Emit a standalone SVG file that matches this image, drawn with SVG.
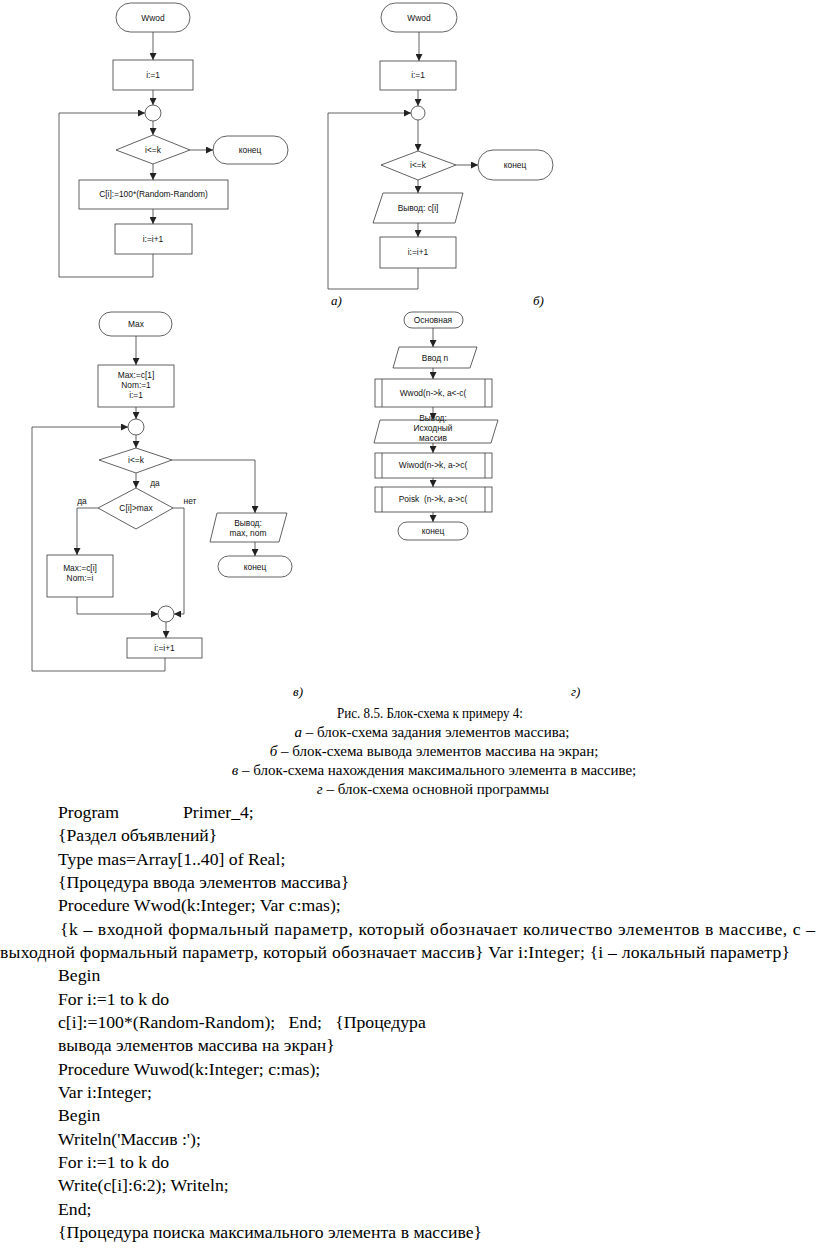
<svg xmlns="http://www.w3.org/2000/svg" width="816" height="1249" viewBox="0 0 816 1249">
<style>
.s{fill:#fff;stroke:#3a3a3a;stroke-width:0.8}
.c{fill:none;stroke:#3a3a3a;stroke-width:0.8}
.t{font-family:"Liberation Sans",Arial,sans-serif;font-size:8.4px;fill:#111;text-anchor:middle}
.lab{font-family:"Liberation Serif","Times New Roman",serif;font-size:13px;font-style:italic;fill:#000}
.cap{font-family:"Liberation Serif","Times New Roman",serif;font-size:15px;fill:#000;text-anchor:middle}
.code{font-family:"Liberation Serif","Times New Roman",serif;font-size:17.7px;fill:#000}
</style>
<defs>
<marker id="ar" markerUnits="userSpaceOnUse" markerWidth="7" markerHeight="7" refX="7" refY="3.5" orient="auto">
<path d="M0,0 L7,3.5 L0,7 z" fill="#222"/>
</marker>
</defs>
<rect width="816" height="1249" fill="#fff"/>

<!-- Diagram a -->
<g id="a_start"><rect class="s" x="116" y="3" width="74" height="29" rx="14.5"/><text class="t" x="153" y="21">Wwod</text></g>
<g id="a_init"><rect class="s" x="113" y="60" width="80" height="30"/><text class="t" x="153" y="78">i:=1</text></g>
<g id="a_join"><circle class="s" cx="153" cy="113" r="8"/></g>
<g id="a_cond"><polygon class="s" points="116,150 153,135 190,150 153,164"/><text class="t" x="153" y="153">i&lt;=k</text></g>
<g id="a_end"><rect class="s" x="213" y="136" width="75" height="28" rx="14"/><text class="t" x="250" y="153">конец</text></g>
<g id="a_assign"><rect class="s" x="79" y="180" width="149" height="29"/><text class="t" x="153.5" y="197">C[i]:=100*(Random-Random)</text></g>
<g id="a_inc"><rect class="s" x="115" y="224" width="77" height="30"/><text class="t" x="153" y="242">i:=i+1</text></g>

<!-- Diagram b -->
<g id="b_start"><rect class="s" x="381" y="3" width="76" height="29" rx="14.5"/><text class="t" x="419" y="21">Wwod</text></g>
<g id="b_init"><rect class="s" x="380" y="61" width="76" height="29"/><text class="t" x="418" y="78">i:=1</text></g>
<g id="b_join"><circle class="s" cx="418" cy="113" r="7"/></g>
<g id="b_cond"><polygon class="s" points="381,165 418,151 456,165 418,180"/><text class="t" x="418" y="168">i&lt;=k</text></g>
<g id="b_end"><rect class="s" x="478" y="150" width="75" height="30" rx="15"/><text class="t" x="515" y="168">конец</text></g>
<g id="b_out"><polygon class="s" points="383,193 463,193 455,223 373,223"/><text class="t" x="418" y="211">Вывод: c[i]</text></g>
<g id="b_inc"><rect class="s" x="380" y="237" width="76" height="31"/><text class="t" x="418" y="255">i:=i+1</text></g>

<!-- Diagram c -->
<g id="c_start"><rect class="s" x="99" y="312" width="73" height="24" rx="12"/><text class="t" x="136" y="327">Max</text></g>
<g id="c_init"><rect class="s" x="98" y="365" width="76" height="42"/><text class="t" x="136" y="378">Max:=c[1]</text><text class="t" x="136" y="388">Nom:=1</text><text class="t" x="136" y="398">i:=1</text></g>
<g id="c_join1"><circle class="s" cx="136" cy="427" r="8"/></g>
<g id="c_cond1"><polygon class="s" points="99,460 136,448 172,460 136,473"/><text class="t" x="136" y="463">i&lt;=k</text></g>
<g id="c_cond2"><polygon class="s" points="98,508 136,488 173,508 136,529"/><text class="t" x="136" y="511">C[i]&gt;max</text></g>
<g id="c_set"><rect class="s" x="47" y="555" width="66" height="42"/><text class="t" x="80" y="571">Max:=c[i]</text><text class="t" x="80" y="581">Nom:=i</text></g>
<g id="c_join2"><circle class="s" cx="166" cy="614" r="8"/></g>
<g id="c_inc"><rect class="s" x="127" y="638" width="75" height="20"/><text class="t" x="164.5" y="651">i:=i+1</text></g>
<g id="c_out"><polygon class="s" points="217,513 287,513 279,542 210,542"/><text class="t" x="248" y="526">Вывод:</text><text class="t" x="248" y="536">max, nom</text></g>
<g id="c_end"><rect class="s" x="218" y="556" width="74" height="21" rx="10.5"/><text class="t" x="255" y="570">конец</text></g>
<g id="c_labels" class="t"><text x="155" y="486">да</text><text x="82" y="504">да</text><text x="190" y="504">нет</text></g>

<!-- Diagram d -->
<g id="d_start"><rect class="s" x="404" y="312" width="59" height="16" rx="8"/><text class="t" x="433" y="323">Основная</text></g>
<g id="d_in"><polygon class="s" points="399,347 477,347 470,368 393,368"/><text class="t" x="435" y="361">Ввод n</text></g>
<g id="d_wwod"><rect class="s" x="375" y="379" width="117" height="28"/><line class="c" x1="382" y1="379" x2="382" y2="407"/><line class="c" x1="485" y1="379" x2="485" y2="407"/><text class="t" x="433" y="396">Wwod(n-&gt;k, a&lt;-c(</text></g>
<g id="d_out"><polygon class="s" points="380,420 498,420 491,443 374,443"/><text class="t" x="433" y="421">Вывод:</text><text class="t" x="433" y="431">Исходный</text><text class="t" x="433" y="441">массив</text></g>
<g id="d_wiwod"><rect class="s" x="375" y="453" width="117" height="25"/><line class="c" x1="382" y1="453" x2="382" y2="478"/><line class="c" x1="485" y1="453" x2="485" y2="478"/><text class="t" x="433" y="468">Wiwod(n-&gt;k, a-&gt;c(</text></g>
<g id="d_poisk"><rect class="s" x="375" y="487" width="117" height="25"/><line class="c" x1="382" y1="487" x2="382" y2="512"/><line class="c" x1="485" y1="487" x2="485" y2="512"/><text class="t" x="433" y="502" xml:space="preserve">Poisk  (n-&gt;k, a-&gt;c(</text></g>
<g id="d_end"><rect class="s" x="398" y="522" width="70" height="18" rx="9"/><text class="t" x="433" y="534">конец</text></g>

<!-- Connectors -->
<g id="connectors" class="c">
<line x1="153" y1="32" x2="153" y2="60" marker-end="url(#ar)"/>
<line x1="153" y1="90" x2="153" y2="105" marker-end="url(#ar)"/>
<line x1="153" y1="121" x2="153" y2="135" marker-end="url(#ar)"/>
<line x1="190" y1="150" x2="213" y2="150" marker-end="url(#ar)"/>
<line x1="153" y1="164" x2="153" y2="180" marker-end="url(#ar)"/>
<line x1="153" y1="209" x2="153" y2="224" marker-end="url(#ar)"/>
<polyline points="153,254 153,277 59,277 59,113 145,113" marker-end="url(#ar)"/>

<line x1="419" y1="32" x2="419" y2="61" marker-end="url(#ar)"/>
<line x1="418" y1="90" x2="418" y2="106" marker-end="url(#ar)"/>
<line x1="418" y1="120" x2="418" y2="151" marker-end="url(#ar)"/>
<line x1="456" y1="165" x2="478" y2="165" marker-end="url(#ar)"/>
<line x1="418" y1="180" x2="418" y2="193" marker-end="url(#ar)"/>
<line x1="418" y1="223" x2="418" y2="237" marker-end="url(#ar)"/>
<polyline points="418,268 418,289 328,289 328,113 411,113" marker-end="url(#ar)"/>

<line x1="136" y1="336" x2="136" y2="365" marker-end="url(#ar)"/>
<line x1="136" y1="407" x2="136" y2="419" marker-end="url(#ar)"/>
<line x1="136" y1="435" x2="136" y2="448" marker-end="url(#ar)"/>
<line x1="136" y1="473" x2="136" y2="488" marker-end="url(#ar)"/>
<polyline points="98,508 77,508 77,555" marker-end="url(#ar)"/>
<polyline points="77,597 77,614 158,614" marker-end="url(#ar)"/>
<polyline points="173,508 184,508 184,614 174,614" marker-end="url(#ar)"/>
<line x1="166" y1="622" x2="166" y2="638" marker-end="url(#ar)"/>
<polyline points="165,658 165,671 32,671 32,427 128,427" marker-end="url(#ar)"/>
<polyline points="172,460 255,460 255,513" marker-end="url(#ar)"/>
<line x1="255" y1="542" x2="255" y2="556" marker-end="url(#ar)"/>

<line x1="433" y1="328" x2="433" y2="347" marker-end="url(#ar)"/>
<line x1="433" y1="368" x2="433" y2="379" marker-end="url(#ar)"/>
<line x1="433" y1="407" x2="433" y2="420" marker-end="url(#ar)"/>
<line x1="433" y1="443" x2="433" y2="453" marker-end="url(#ar)"/>
<line x1="433" y1="478" x2="433" y2="487" marker-end="url(#ar)"/>
<line x1="433" y1="512" x2="433" y2="522" marker-end="url(#ar)"/>
</g>

<!-- Sub-figure labels -->
<g id="labels">
<text class="lab" x="331" y="305">а)</text>
<text class="lab" x="533" y="305">б)</text>
<text class="lab" x="293" y="696">в)</text>
<text class="lab" x="571" y="696">г)</text>
</g>

<!-- Caption -->
<g id="caption">
<text class="cap" x="430" y="718" textLength="186" lengthAdjust="spacingAndGlyphs">Рис. 8.5. Блок-схема к примеру 4:</text>
<text class="cap" x="432" y="737"><tspan font-style="italic">а</tspan> – блок-схема задания элементов массива;</text>
<text class="cap" x="434" y="756"><tspan font-style="italic">б</tspan> – блок-схема вывода элементов массива на экран;</text>
<text class="cap" x="434" y="775"><tspan font-style="italic">в</tspan> – блок-схема нахождения максимального элемента в массиве;</text>
<text class="cap" x="433" y="794"><tspan font-style="italic">г</tspan> – блок-схема основной программы</text>
</g>

<!-- Code -->
<g id="code" class="code">
<text x="58" y="818">Program</text><text x="183" y="818">Primer_4;</text>
<text x="58" y="841.3">{Раздел объявлений}</text>
<text x="58" y="864.7">Type mas=Array[1..40] of Real;</text>
<text x="58" y="888">{Процедура ввода элементов массива}</text>
<text x="58" y="911.3">Procedure Wwod(k:Integer; Var c:mas);</text>
<text x="60" y="934.7" textLength="755" lengthAdjust="spacing">{k – входной формальный параметр, который обозначает количество элементов в массиве, с –</text>
<text x="0" y="958" textLength="790" lengthAdjust="spacing">выходной формальный параметр, который обозначает массив} Var i:Integer; {i – локальный параметр}</text>
<text x="58" y="981.3">Begin</text>
<text x="58" y="1004.7">For i:=1 to k do</text>
<text x="58" y="1028" xml:space="preserve">c[i]:=100*(Random-Random);   End;   {Процедура</text>
<text x="58" y="1051.3">вывода элементов массива на экран}</text>
<text x="58" y="1074.7">Procedure Wuwod(k:Integer; c:mas);</text>
<text x="58" y="1098">Var i:Integer;</text>
<text x="58" y="1121.3">Begin</text>
<text x="58" y="1144.7">Writeln('Массив :');</text>
<text x="58" y="1168">For i:=1 to k do</text>
<text x="58" y="1191.3">Write(c[i]:6:2); Writeln;</text>
<text x="58" y="1214.7">End;</text>
<text x="58" y="1238">{Процедура поиска максимального элемента в массиве}</text>
</g>
</svg>
